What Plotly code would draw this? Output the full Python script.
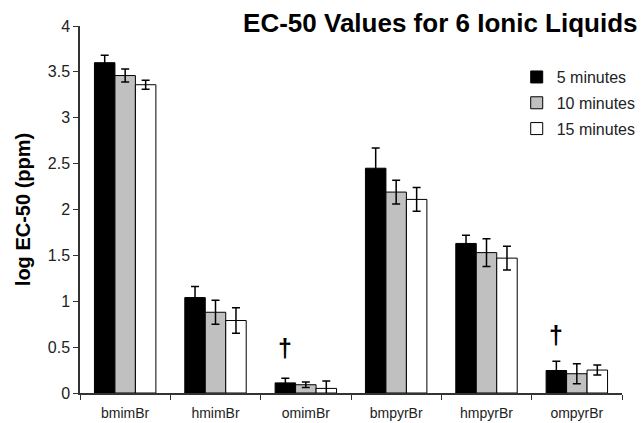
import plotly.graph_objects as go

categories = ["bmimBr", "hmimBr", "omimBr", "bmpyrBr", "hmpyrBr", "ompyrBr"]
series_names = ["5 minutes", "10 minutes", "15 minutes"]
vals_5 = [3.60, 1.04, 0.11, 2.45, 1.63, 0.245]
err_5 = [0.08, 0.12, 0.05, 0.22, 0.09, 0.10]
vals_10 = [3.46, 0.88, 0.09, 2.19, 1.53, 0.21]
err_10 = [0.07, 0.13, 0.03, 0.13, 0.15, 0.11]
vals_15 = [3.36, 0.79, 0.05, 2.11, 1.47, 0.25]
err_15 = [0.05, 0.14, 0.08, 0.13, 0.13, 0.055]
colors = ["#000000", "#c0c0c0", "#ffffff"]
dagger_cats = ["omimBr", "ompyrBr"]
dagger_y = [0.49, 0.63]

fig = go.Figure()
for name, v, e, c in zip(series_names, [vals_5, vals_10, vals_15], [err_5, err_10, err_15], colors):
    fig.add_trace(go.Bar(
        x=categories, y=v, name=name, legendgroup=name,
        marker=dict(color=c, line=dict(color="black", width=1)),
        error_y=dict(type="data", array=e, color="black", thickness=1.5, width=4),
    ))

bargap = 0.32
bw = (1 - bargap) / 3
for cat, yy in zip(dagger_cats, dagger_y):
    fig.add_annotation(x=categories.index(cat) - bw, y=yy, text="<b>†</b>", showarrow=False,
                       font=dict(size=25, color="black", family="Liberation Sans, Arial"))

fig.update_layout(
    width=642, height=423,
    margin=dict(l=80, r=20, t=26, b=30, autoexpand=False),
    plot_bgcolor="white", paper_bgcolor="white",
    barmode="group", bargap=bargap, bargroupgap=0,
    font=dict(family="Liberation Sans, Arial", color="#222", size=13),
    title=dict(text="<b>EC-50 Values for 6 Ionic Liquids</b>", font=dict(size=26, color="black"),
               xref="container", x=0.993, xanchor="right", yref="container", y=0.945, yanchor="middle"),
    legend=dict(xref="container", yref="container", x=0.998, y=0.858, xanchor="right", yanchor="top",
                traceorder="grouped", tracegroupgap=2, font=dict(size=16, color="#222"),
                bgcolor="rgba(0,0,0,0)", itemwidth=30),
    showlegend=True,
)
fig.update_xaxes(showline=True, linecolor="#333", linewidth=1.5, ticks="outside", tickson="boundaries",
                 ticklen=5, tickcolor="#333", showgrid=False, tickfont=dict(size=14),
                 ticklabelstandoff=6, automargin=False)
fig.update_yaxes(range=[0, 4], dtick=0.5, showline=True, linecolor="#333", linewidth=1.5, ticks="outside",
                 ticklen=5, tickcolor="#333", showgrid=False, zeroline=False, automargin=False,
                 title=dict(text="<b>log EC-50 (ppm)</b>", font=dict(size=20, color="black"), standoff=12),
                 tickfont=dict(size=16))

fig.write_html("out.html")
